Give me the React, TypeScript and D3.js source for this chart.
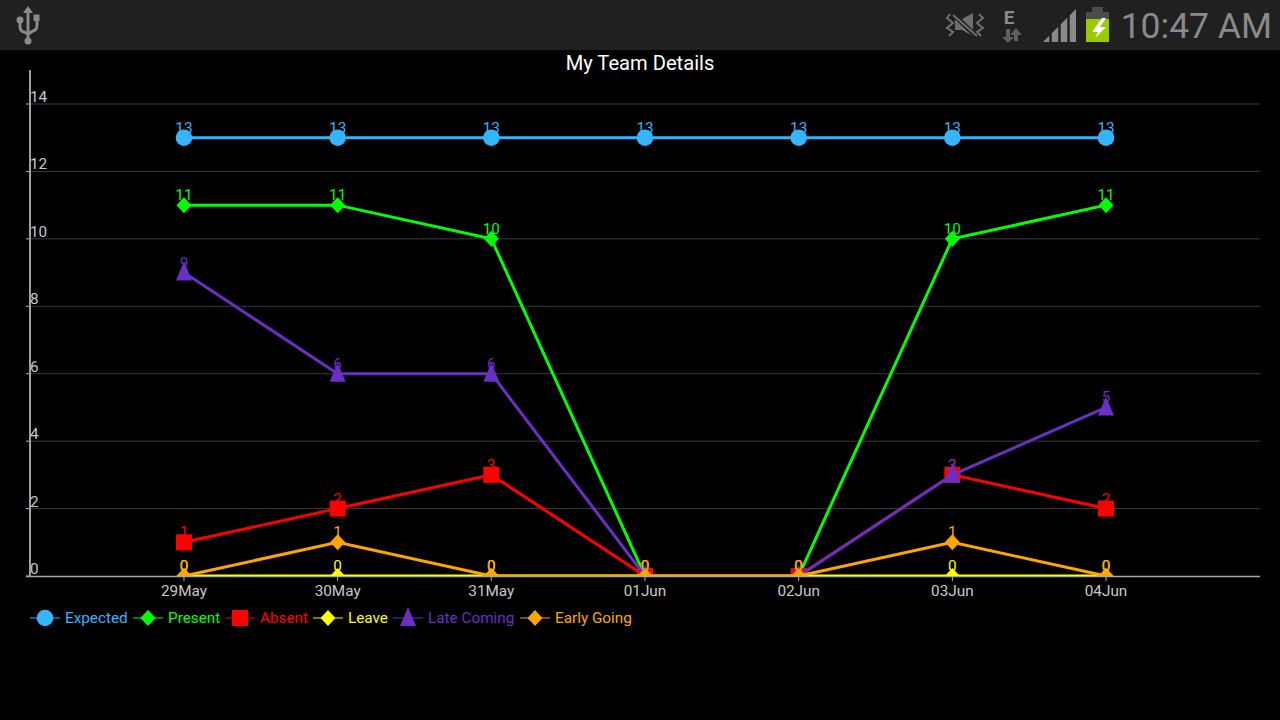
import React from 'react';
import * as d3 from 'd3';

const categories = ['29May', '30May', '31May', '01Jun', '02Jun', '03Jun', '04Jun'];
const expected = [13, 13, 13, 13, 13, 13, 13];
const present = [11, 11, 10, 0, 0, 10, 11];
const absent = [1, 2, 3, 0, 0, 3, 2];
const leave = [0, 0, 0, 0, 0, 0, 0];
const lateComing = [9, 6, 6, 0, 0, 3, 5];
const earlyGoing = [0, 1, 0, 0, 0, 1, 0];
const yTicks = [0, 2, 4, 6, 8, 10, 12, 14];

type Marker = 'circle' | 'diamond' | 'square' | 'triangle';
const seriesList: { name: string; values: number[]; color: string; marker: Marker; legendX: number }[] = [
  { name: 'Expected', values: expected, color: '#33b5ff', marker: 'circle', legendX: 30 },
  { name: 'Present', values: present, color: '#00ff00', marker: 'diamond', legendX: 133 },
  { name: 'Absent', values: absent, color: '#ff0000', marker: 'square', legendX: 225 },
  { name: 'Leave', values: leave, color: '#ffff00', marker: 'diamond', legendX: 313 },
  { name: 'Late Coming', values: lateComing, color: '#6a2fc4', marker: 'triangle', legendX: 393 },
  { name: 'Early Going', values: earlyGoing, color: '#ffa500', marker: 'diamond', legendX: 520 },
];

const FONT = 'Roboto, sans-serif';
const x = d3.scaleLinear().domain([-1, 7]).range([30.3, 1259.7]);
const y = d3.scaleLinear().domain([0, 14]).range([576, 104]);

function MarkerShape({ kind, cx, cy, color }: { kind: Marker; cx: number; cy: number; color: string }) {
  if (kind === 'circle') return <circle cx={cx} cy={cy} r={8.3} fill={color} />;
  if (kind === 'square') return <rect x={cx - 8} y={cy - 8} width={16} height={16} fill={color} />;
  if (kind === 'diamond') {
    return <path d={`M${cx},${cy - 8}L${cx + 7.5},${cy}L${cx},${cy + 8}L${cx - 7.5},${cy}Z`} fill={color} />;
  }
  return <path d={`M${cx},${cy - 11}L${cx + 8},${cy + 8}L${cx - 8},${cy + 8}Z`} fill={color} />;
}

function StatusBar() {
  const grey = '#8a8a8a';
  const bg = '#202020';
  return (
    <g>
      <rect x={0} y={0} width={1280} height={50} fill={bg} />
      {/* USB */}
      <g stroke={grey} strokeWidth={3} fill="none">
        <path d="M28,12V40" />
        <path d="M20,22V27Q20,31 24,32L28,34L33,31Q37,30 37,25V20" />
      </g>
      <path d="M28,6L33,13H23Z" fill={grey} />
      <circle cx={20} cy={20} r={3.5} fill={grey} />
      <rect x={33.5} y={14.5} width={6} height={6.5} fill={grey} />
      <circle cx={28} cy={41} r={3.5} fill={grey} />
      {/* muted vibrate */}
      <g stroke="#6f6f6f" fill="none" strokeWidth={2}>
        <path d="M950,14L947,18L953,23L947,28L953,32L949,36" />
        <path d="M979,14L983,18L977,23L983,28L977,32L981,36" />
      </g>
      <path d="M955,19H962L973,13V36L962,30H955Z" fill="#6f6f6f" />
      <path d="M953,14L977,37" stroke={bg} strokeWidth={5} fill="none" />
      <path d="M953,15L977,36" stroke="#6f6f6f" strokeWidth={2} fill="none" />
      {/* network */}
      <text x={1009} y={24} fontFamily={FONT} fontWeight={700} fontSize={19} fill={grey} textAnchor="middle">E</text>
      <path d="M1002,37H1006V29H1010V37H1014L1008,43Z" fill="#5f5f5f" />
      <path d="M1010,35L1016,28L1022,35H1018V41H1014V35Z" fill="#5f5f5f" />
      {/* signal */}
      <path d="M1043,42L1076,9V42Z" fill={grey} />
      <g stroke={bg} strokeWidth={2.5}>
        <path d="M1050.5,20V43M1059.5,20V43M1068.5,5V43" />
      </g>
      {/* battery */}
      <rect x={1092} y={7} width={11} height={5} fill="#4c4c4c" />
      <rect x={1086} y={12} width={23} height={7} fill="#4c4c4c" />
      <rect x={1086} y={19} width={23} height={23} fill="#99cc00" />
      <path d="M1102,18L1092,32H1098L1095,38L1106,27H1100L1106,18Z" fill="#ffffff" />
      <text x={1272} y={38} textAnchor="end" fontFamily={FONT} fontSize={35.5} fill={grey}>10:47 AM</text>
    </g>
  );
}

export default function App() {
  const line = d3.line<number>().x((_, i) => x(i)).y(d => y(d));
  return (
    <svg width={1280} height={720} style={{ position: 'absolute', left: 0, top: 0, background: '#000' }}>
      <rect width={1280} height={720} fill="#000" />
      <StatusBar />
      <defs>
        <clipPath id="plot">
          <rect x={30} y={50} width={1230} height={526} />
        </clipPath>
      </defs>
      <text x={640} y={70} textAnchor="middle" fontFamily={FONT} fontSize={20.15} fill="#fff">My Team Details</text>

      {yTicks.filter(t => t > 0).map(t => (
        <line key={t} x1={30} x2={1260} y1={y(t)} y2={y(t)} stroke="#3a3a3a" strokeWidth={1} />
      ))}
      {yTicks.map(t => (
        <g key={t}>
          <line x1={26} x2={30} y1={y(t)} y2={y(t)} stroke="#b4b4b4" />
          <text x={30} y={y(t) - 2} fontFamily={FONT} fontSize={15.3} fill="#c8c8c8">{t}</text>
        </g>
      ))}
      <line x1={30} x2={30} y1={70} y2={576} stroke="#a0a0a0" strokeWidth={2} />
      <line x1={26} x2={1260} y1={576.5} y2={576.5} stroke="#a8a8a8" strokeWidth={1.5} />
      {categories.map((c, i) => (
        <g key={c}>
          <line x1={x(i)} x2={x(i)} y1={576} y2={581} stroke="#b4b4b4" />
          <text x={x(i)} y={596} textAnchor="middle" fontFamily={FONT} fontSize={15.3} fill="#c8c8c8">{c}</text>
        </g>
      ))}

      <g clipPath="url(#plot)">
        {seriesList.map(s => (
          <g key={s.name}>
            <path d={line(s.values) ?? ''} fill="none" stroke={s.color} strokeWidth={3} />
            {s.values.map((v, i) => (
              <MarkerShape key={i} kind={s.marker} cx={x(i)} cy={y(v)} color={s.color} />
            ))}
          </g>
        ))}
      </g>

      {seriesList.map(s => (
        <g key={s.name}>
          {s.values.map((v, i) => (
            <text key={i} x={x(i)} y={y(v) - 5} textAnchor="middle" fontFamily={FONT} fontSize={15.3} fill={s.color}>{v}</text>
          ))}
        </g>
      ))}

      {seriesList.map(s => (
        <g key={s.name}>
          <line x1={s.legendX} x2={s.legendX + 30} y1={618} y2={618} stroke={s.color} strokeOpacity={0.65} strokeWidth={1.5} />
          <MarkerShape kind={s.marker} cx={s.legendX + 15} cy={618} color={s.color} />
          <text x={s.legendX + 35} y={623} fontFamily={FONT} fontSize={15.3} fill={s.color}>{s.name}</text>
        </g>
      ))}
    </svg>
  );
}
